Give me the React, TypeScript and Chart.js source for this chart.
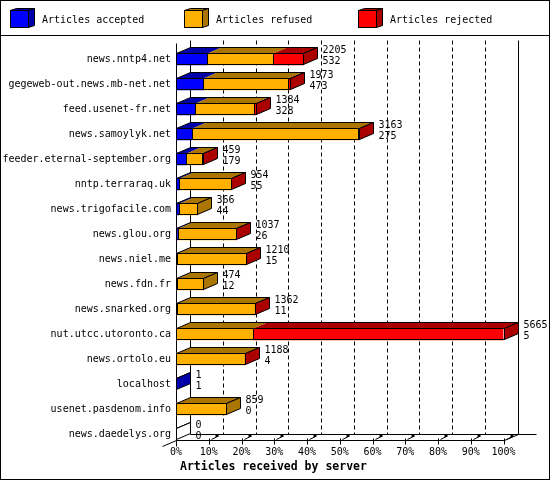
import React, { useEffect, useRef } from 'react';
import { Chart, registerables } from 'chart.js';

Chart.register(...registerables);

const hosts = [
  'news.nntp4.net',
  'gegeweb-out.news.mb-net.net',
  'feed.usenet-fr.net',
  'news.samoylyk.net',
  'feeder.eternal-september.org',
  'nntp.terraraq.uk',
  'news.trigofacile.com',
  'news.glou.org',
  'news.niel.me',
  'news.fdn.fr',
  'news.snarked.org',
  'nut.utcc.utoronto.ca',
  'news.ortolo.eu',
  'localhost',
  'usenet.pasdenom.info',
  'news.daedelys.org',
];
const accepted = [532, 473, 328, 275, 179, 55, 44, 26, 15, 12, 11, 5, 4, 1, 0, 0];
const refused = [1153, 1470, 1016, 2878, 275, 896, 322, 1006, 1190, 462, 1348, 1334, 1181, 0, 859, 0];
const rejected = [520, 30, 40, 10, 5, 3, 0, 5, 5, 0, 3, 4326, 3, 0, 0, 0];
const seriesNames = ['Articles accepted', 'Articles refused', 'Articles rejected'];
const tickPercents = [0, 10, 20, 30, 40, 50, 60, 70, 80, 90, 100];
const axisTitle = 'Articles received by server';

const series = [accepted, refused, rejected];
const totals = hosts.map((_, i) => accepted[i] + refused[i] + rejected[i]);
const maxTotal = Math.max(...totals);

const FRONT = ['#0000ff', '#ffb000', '#ff0000'];
const DARK = ['#0000aa', '#aa7500', '#aa0000'];
const DX = 14;
const DY = 6;
const BAR = 12;
const MONO = '"DejaVu Sans Mono", "Liberation Mono", monospace';

const line = (ctx: CanvasRenderingContext2D, x1: number, y1: number, x2: number, y2: number) => {
  ctx.beginPath();
  ctx.moveTo(x1, y1);
  ctx.lineTo(x2, y2);
  ctx.stroke();
};

const poly = (ctx: CanvasRenderingContext2D, pts: number[][], fill?: string) => {
  ctx.beginPath();
  pts.forEach(([px, py], k) => (k ? ctx.lineTo(px, py) : ctx.moveTo(px, py)));
  ctx.closePath();
  if (fill) {
    ctx.fillStyle = fill;
    ctx.fill();
  }
};

// floor, back wall and dashed grid drawn in the 3D style
const floorPlugin = {
  id: 'floor3d',
  beforeDatasetsDraw(chart: any) {
    const { ctx, chartArea: a } = chart;
    const x = chart.scales.x;
    const y = chart.scales.y;
    const px = (v: number) => Math.round(x.getPixelForValue(v)) + 0.5;
    const x0 = px(0);
    const xR = px(maxTotal);
    const floorF = Math.round(y.getPixelForValue(hosts.length - 1) + BAR / 2) + 0.5;
    const floorB = floorF - DY;
    const top = Math.round(a.top) - 6.5;
    ctx.save();
    ctx.strokeStyle = '#000';
    ctx.lineWidth = 1;
    line(ctx, x0, top + 3, x0, floorF + 6);
    line(ctx, x0 + DX, top, x0 + DX, floorB);
    line(ctx, xR + DX, top, xR + DX, floorB);
    line(ctx, x0, floorF, xR, floorF);
    line(ctx, x0 + DX, floorB, xR + DX + 18, floorB);
    line(ctx, x0, floorF, x0 - 14, floorF + 6);
    line(ctx, xR, floorF, xR + DX, floorB);
    ctx.setLineDash([4, 3]);
    x.ticks.forEach((t: any) => {
      if (t.value <= 0 || t.value >= maxTotal) return;
      line(ctx, px(t.value) + DX, top, px(t.value) + DX, floorB);
    });
    ctx.setLineDash([]);
    x.ticks.forEach((t: any) => {
      if (t.value <= 0) return;
      const tx = px(t.value);
      line(ctx, tx, floorF - 2, tx, floorF + 4);
      line(ctx, tx + 2, floorF - 1, tx + 8, floorF - 4);
      ctx.fillStyle = '#000';
      ctx.fillRect(tx + 6, floorF - 5.5, 3, 2);
    });
    ctx.restore();
  },
  afterDatasetsDraw(chart: any) {
    const { ctx } = chart;
    const x = chart.scales.x;
    const metas = series.map((_, s) => chart.getDatasetMeta(s));
    const start = Math.round(x.getPixelForValue(0)) + 0.5;
    ctx.save();
    ctx.strokeStyle = '#000';
    ctx.lineWidth = 1;
    hosts.forEach((_, i) => {
      const el = metas[0].data[i];
      const cy = el.y;
      const t = Math.round(cy - BAR / 2) + 0.5;
      const b = Math.round(cy + BAR / 2) - 0.5;
      const segs = series
        .map((vals, s) => ({
          s,
          v: vals[i],
          x0: Math.round(metas[s].data[i].base) + 0.5,
          x1: Math.round(metas[s].data[i].x) + 0.5,
        }))
        .filter((sg) => sg.v > 0);
      const last = segs[segs.length - 1];
      const end = last ? last.x1 : start;

      // top faces
      segs.forEach((sg) => {
        poly(ctx, [[sg.x0, t], [sg.x1, t], [sg.x1 + DX, t - DY], [sg.x0 + DX, t - DY]], DARK[sg.s]);
      });
      poly(ctx, [[start, t], [start + DX, t - DY], [end + DX, t - DY], [end, t]]);
      ctx.stroke();
      // side face
      poly(ctx, [[end, t], [end + DX, t - DY], [end + DX, b - DY], [end, b]], last ? DARK[last.s] : '#ffffff');
      ctx.stroke();
      // front outlines
      segs.forEach((sg) => {
        ctx.strokeRect(sg.x0, t, sg.x1 - sg.x0, b - t);
      });
      if (!last) line(ctx, start, t, start, b);

      ctx.fillStyle = '#000';
      ctx.font = `10px ${MONO}`;
      ctx.textAlign = 'left';
      ctx.textBaseline = 'middle';
      ctx.fillText(String(totals[i]), end + DX + 5, cy - 9);
      ctx.fillText(String(accepted[i]), end + DX + 5, cy + 2.5);
    });
    ctx.restore();
  },
  afterDraw(chart: any) {
    const { ctx, width, height } = chart;
    ctx.save();
    ctx.strokeStyle = '#000';
    ctx.lineWidth = 1;
    ctx.strokeRect(0.5, 0.5, width - 1, height - 1);
    line(ctx, 0, 35.5, width, 35.5);

    // legend
    ctx.font = `10px ${MONO}`;
    ctx.textAlign = 'left';
    ctx.textBaseline = 'middle';
    seriesNames.forEach((name, s) => {
      const lx = 10.5 + s * 174;
      const ly = 10.5;
      const w = 18;
      const h = 17;
      poly(ctx, [[lx, ly], [lx + 6, ly - 2], [lx + w + 6, ly - 2], [lx + w, ly]], DARK[s]);
      ctx.stroke();
      poly(ctx, [[lx + w, ly], [lx + w + 6, ly - 2], [lx + w + 6, ly + h - 2], [lx + w, ly + h]], DARK[s]);
      ctx.stroke();
      ctx.fillStyle = FRONT[s];
      ctx.fillRect(lx, ly, w, h);
      ctx.strokeRect(lx, ly, w, h);
      ctx.fillStyle = '#000';
      ctx.fillText(name, 42 + s * 174, 20);
    });

    ctx.font = `bold 11.5px ${MONO}`;
    ctx.fillText(axisTitle, 180, 467);
    ctx.restore();
  },
};

export default function App() {
  const canvasRef = useRef<HTMLCanvasElement>(null);

  useEffect(() => {
    document.body.style.margin = '0';
    if (!canvasRef.current) return;
    const chart = new Chart(canvasRef.current, {
      type: 'bar',
      data: {
        labels: hosts,
        datasets: series.map((vals, s) => ({
          label: seriesNames[s],
          data: vals,
          backgroundColor: FRONT[s],
          borderWidth: 0,
          barThickness: BAR,
        })),
      },
      options: {
        indexAxis: 'y',
        responsive: false,
        animation: false,
        events: [],
        layout: { padding: { top: 46.5, right: 46.5, bottom: 0, left: 0 } },
        plugins: {
          legend: { display: false },
          tooltip: { enabled: false },
        },
        scales: {
          x: {
            type: 'linear',
            stacked: true,
            min: 0,
            max: maxTotal,
            afterBuildTicks: (scale: any) => {
              scale.ticks = tickPercents.map((p) => ({ value: (maxTotal * p) / 100 }));
            },
            afterFit: (scale: any) => {
              scale.height = 33.5;
            },
            grid: { display: false, drawTicks: false },
            border: { display: false },
            ticks: {
              padding: 0,
              maxRotation: 0,
              autoSkip: false,
              color: '#000',
              font: { family: MONO, size: 10 },
              callback: (v: any) => `${Math.round((Number(v) / maxTotal) * 100)}%`,
            },
          },
          y: {
            stacked: true,
            afterFit: (scale: any) => {
              scale.width = 176;
            },
            grid: { display: false, drawTicks: false },
            border: { display: false },
            ticks: {
              padding: 5,
              autoSkip: false,
              color: '#000',
              font: { family: MONO, size: 10 },
            },
          },
        },
      },
      plugins: [floorPlugin],
    } as any);
    return () => chart.destroy();
  }, []);

  return <canvas ref={canvasRef} width={550} height={480} style={{ display: 'block' }} />;
}
